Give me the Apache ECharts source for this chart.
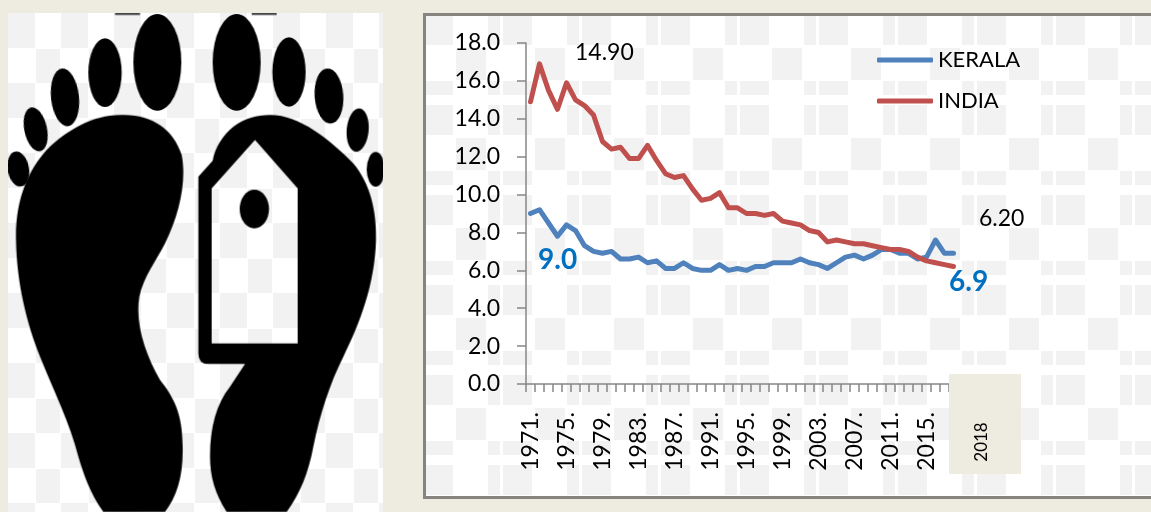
<!DOCTYPE html>
<html>
<head>
<meta charset="utf-8">
<title>Kerala and India death rate</title>
<style>
    html, body { margin: 0; padding: 0; background: #eeece1; }
    #page { position: relative; width: 1151px; height: 512px; overflow: hidden; }
    #art, #main { position: absolute; left: 0; top: 0; width: 1151px; height: 512px; }
</style>
<script src="https://cdn.jsdelivr.net/npm/echarts@6/dist/echarts.min.js"></script>
</head>
<body>
<div id="page">
    <!-- backdrop: the foot picture and the checker pattern behind the chart -->
    <svg id="art" viewBox="0 0 1151 512" xmlns="http://www.w3.org/2000/svg">
        <defs>
            <pattern id="chartTile" x="424" y="15" width="79" height="90" patternUnits="userSpaceOnUse">
                <rect width="79" height="90" fill="#ffffff"/>
                <g fill="#f2f2f2">
                    <rect x="0" y="0" width="29" height="30"/>
                    <rect x="32" y="33" width="30" height="32"/>
                    <rect x="0" y="66" width="29" height="14"/>
                    <rect x="64" y="0" width="12" height="30"/>
                    <rect x="64" y="66" width="12" height="14"/>
                </g>
            </pattern>
            <pattern id="footTile" x="8" y="13" width="53" height="70" patternUnits="userSpaceOnUse">
                <rect width="53" height="70" fill="#ffffff"/>
                <g fill="#f2f2f2">
                    <rect x="0" y="0" width="27" height="35"/>
                    <rect x="28" y="36" width="24" height="34"/>
                </g>
            </pattern>
            <clipPath id="footClip"><rect x="8" y="13" width="375" height="499"/></clipPath>
            <filter id="soft"><feGaussianBlur stdDeviation="0.5"/></filter>
        </defs>

        <rect x="8" y="13" width="375" height="499" fill="url(#footTile)"/>
        <g clip-path="url(#footClip)">
            <g transform="scale(0.33333)" filter="url(#soft)">
                <g fill="#000000">
                    <ellipse cx="472" cy="187" rx="72" ry="145"/>
                    <ellipse cx="315" cy="218" rx="50" ry="103"/>
                    <ellipse cx="195" cy="292" rx="42" ry="87" transform="rotate(-6 195 292)"/>
                    <ellipse cx="107" cy="388" rx="34" ry="67" transform="rotate(-12 107 388)"/>
                    <ellipse cx="55" cy="507" rx="32" ry="53" transform="rotate(-10 55 507)"/>
                    <ellipse cx="710" cy="187" rx="72" ry="145"/>
                    <ellipse cx="867" cy="216" rx="50" ry="104"/>
                    <ellipse cx="987" cy="288" rx="43" ry="83" transform="rotate(-4 987 288)"/>
                    <ellipse cx="1073" cy="390" rx="33" ry="65" transform="rotate(5 1073 390)"/>
                    <ellipse cx="1127" cy="508" rx="27" ry="52"/>
                    <ellipse cx="763" cy="627" rx="44" ry="58"/>
                    <path d="M360 345 C450 340 520 385 545 465 C560 540 540 640 495 730 C470 780 430 830 418 890 C405 970 435 1060 480 1140 C520 1190 548 1240 548 1340 C550 1430 530 1490 495 1536 L310 1536 C270 1480 250 1420 235 1370 C210 1270 160 1170 120 1070 C80 970 50 850 48 720 C45 600 85 510 140 450 C200 390 280 345 360 345 Z"/>
                    <path fill-rule="evenodd" d="M810 345 C900 345 990 420 1060 490 C1110 550 1130 630 1128 720 C1125 850 1080 970 1030 1070 C990 1150 960 1240 940 1340 C925 1420 900 1480 860 1536 L680 1536 C645 1480 630 1430 630 1370 C630 1280 650 1210 690 1160 L735 1092 L625 1092 Q595 1092 595 1060 L595 530 L638 482 C645 440 670 405 700 380 C735 355 770 345 810 345 Z M635 565 L765 420 L893 565 L893 1030 L635 1030 Z"/>
                    <rect x="345" y="38" width="75" height="7" fill="#444444"/>
                    <rect x="755" y="38" width="75" height="7" fill="#444444"/>
                </g>
            </g>
        </g>

        <rect x="424.5" y="14.5" width="740" height="483" fill="url(#chartTile)" stroke="#85847e" stroke-width="3"/>
    </svg>
    <div id="main"></div>
</div>

<script>
    var years = ['1971', '1972', '1973', '1974', '1975', '1976', '1977', '1978', '1979', '1980',
        '1981', '1982', '1983', '1984', '1985', '1986', '1987', '1988', '1989', '1990',
        '1991', '1992', '1993', '1994', '1995', '1996', '1997', '1998', '1999', '2000',
        '2001', '2002', '2003', '2004', '2005', '2006', '2007', '2008', '2009', '2010',
        '2011', '2012', '2013', '2014', '2015', '2016', '2017', '2018'];

    var kerala = [9.0, 9.2, 8.5, 7.8, 8.4, 8.1, 7.3, 7.0, 6.9, 7.0,
        6.6, 6.6, 6.7, 6.4, 6.5, 6.1, 6.1, 6.4, 6.1, 6.0,
        6.0, 6.3, 6.0, 6.1, 6.0, 6.2, 6.2, 6.4, 6.4, 6.4,
        6.6, 6.4, 6.3, 6.1, 6.4, 6.7, 6.8, 6.6, 6.8, 7.1,
        7.1, 6.9, 6.9, 6.6, 6.7, 7.6, 6.9, 6.9];

    var india = [14.9, 16.9, 15.5, 14.5, 15.9, 15.0, 14.7, 14.2, 12.8, 12.4,
        12.5, 11.9, 11.9, 12.6, 11.8, 11.1, 10.9, 11.0, 10.3, 9.7,
        9.8, 10.1, 9.3, 9.3, 9.0, 9.0, 8.9, 9.0, 8.6, 8.5,
        8.4, 8.1, 8.0, 7.5, 7.6, 7.5, 7.4, 7.4, 7.3, 7.2,
        7.1, 7.1, 7.0, 6.7, 6.5, 6.4, 6.3, 6.2];

    var fontName = 'Lato';
    var axisColor = '#868686';
    var textColor = '#000000';

    // 把文字标注放到图上
    function note(text, x, y, size, color, weight) {
        return {
            type: 'text',
            x: x,
            y: y,
            z: 60,
            silent: true,
            style: {
                text: text,
                fill: color,
                fontFamily: fontName,
                fontSize: size,
                fontWeight: weight || 'normal',
                align: 'left',
                verticalAlign: 'middle'
            }
        };
    }

    var myChart = echarts.init(document.getElementById('main'));

    var option = {
        animation: false,
        backgroundColor: 'transparent',
        color: ['#4f81bd', '#c0504d'],
        textStyle: { fontFamily: fontName },
        grid: {
            left: 526,
            top: 43,
            width: 432,
            height: 341,
            containLabel: false
        },
        legend: {
            left: 877,
            top: 49,
            padding: 0,
            orient: 'vertical',
            icon: 'roundRect',
            itemWidth: 56,
            itemHeight: 5,
            itemGap: 19,
            textStyle: { fontSize: 22, color: textColor, fontFamily: fontName },
            data: ['KERALA', 'INDIA']
        },
        xAxis: {
            type: 'category',
            data: years,
            axisLine: { lineStyle: { color: axisColor, width: 1.5 } },
            axisTick: { show: true, interval: 0, length: 8, lineStyle: { color: axisColor, width: 1.5 } },
            axisLabel: {
                interval: 3,
                rotate: 90,
                margin: 28,
                fontSize: 23,
                color: textColor,
                formatter: function (v) { return v + '.'; }
            },
            splitLine: { show: false }
        },
        yAxis: {
            type: 'value',
            min: 0,
            max: 18,
            interval: 2,
            axisLine: { show: true, lineStyle: { color: axisColor, width: 1.5 } },
            axisTick: { show: true, length: 9, lineStyle: { color: axisColor, width: 1.5 } },
            axisLabel: {
                margin: 26,
                fontSize: 23,
                color: textColor,
                formatter: function (v) { return v.toFixed(1); }
            },
            splitLine: { show: false }
        },
        series: [
            {
                name: 'KERALA',
                type: 'line',
                data: kerala,
                symbol: 'none',
                lineStyle: { width: 5, cap: 'round', join: 'round' }
            },
            {
                name: 'INDIA',
                type: 'line',
                data: india,
                symbol: 'none',
                lineStyle: { width: 5, cap: 'round', join: 'round' }
            }
        ],
        graphic: [
            // 2018 的标签盖在轴的末端
            {
                type: 'rect',
                z: 50,
                silent: true,
                shape: { x: 949, y: 374, width: 72, height: 100 },
                style: { fill: '#eeece1' }
            },
            {
                type: 'text',
                x: 982,
                y: 442,
                z: 60,
                rotation: Math.PI / 2,
                silent: true,
                style: {
                    text: '2018',
                    fill: textColor,
                    fontFamily: fontName,
                    fontSize: 17,
                    align: 'center',
                    verticalAlign: 'middle'
                }
            },
            note('14.90', 575, 53, 23, textColor),
            note('6.20', 979, 219, 23, textColor),
            note('9.0', 538, 260, 28, '#0070c0', 'bold'),
            note('6.9', 949, 282, 28, '#0070c0', 'bold')
        ]
    };

    myChart.setOption(option, true);
</script>
</body>
</html>
